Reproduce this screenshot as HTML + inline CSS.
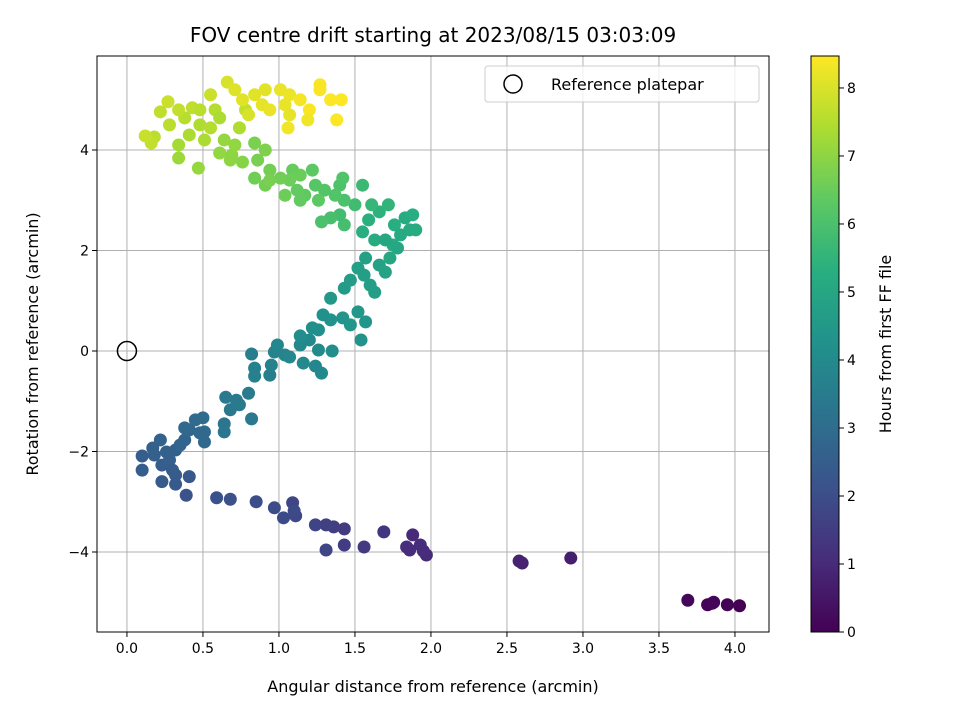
<!DOCTYPE html>
<html><head><meta charset="utf-8"><style>
html,body{margin:0;padding:0;background:#fff;}
svg{display:block;font-family:"DejaVu Sans","Liberation Sans",sans-serif;}
</style></head><body>
<svg id="chart" width="960" height="720" viewBox="0 0 960 720" xmlns="http://www.w3.org/2000/svg">
<defs>
<linearGradient id="vir" x1="0" y1="1" x2="0" y2="0">
<stop offset="0" stop-color="#440154"/><stop offset="0.125" stop-color="#472d7b"/><stop offset="0.25" stop-color="#3b528b"/><stop offset="0.375" stop-color="#2c728e"/><stop offset="0.5" stop-color="#21918c"/><stop offset="0.625" stop-color="#28ae80"/><stop offset="0.75" stop-color="#5ec962"/><stop offset="0.875" stop-color="#addc30"/><stop offset="1" stop-color="#fde725"/>
</linearGradient>
</defs>
<text x="433" y="42" font-size="20" text-anchor="middle">FOV centre drift starting at 2023/08/15 03:03:09</text>
<g id="grid"></g>
<g id="points"></g>
<rect x="97" y="56" width="672" height="576" fill="none" stroke="#000" stroke-width="1"/>
<g id="ticks"></g>
<text x="433" y="692" font-size="16" text-anchor="middle">Angular distance from reference (arcmin)</text>
<text transform="translate(38,344) rotate(-90)" font-size="16" text-anchor="middle">Rotation from reference (arcmin)</text>
<g>
<rect x="485" y="66" width="274" height="36" rx="3" fill="#fff" fill-opacity="0.8" stroke="#ccc"/>
<circle cx="513" cy="84" r="9" fill="none" stroke="#000" stroke-width="1.5"/>
<text x="551" y="90" font-size="16">Reference platepar</text>
</g>
<g>
<rect x="811" y="56" width="28" height="576" fill="url(#vir)" stroke="#000" stroke-width="1"/>
<g id="cbticks"></g>
<text transform="translate(891,344) rotate(-90)" font-size="16" text-anchor="middle">Hours from first FF file</text>
</g>
</svg>
<script>
const xs=[4.03,3.95,3.86,3.82,3.69,3.85,
2.92,2.58,2.6,
1.97,1.95,1.93,1.88,1.86,1.84,1.69,1.56,1.43,1.43,1.36,1.31,1.24,1.31,1.11,1.09,1.1,1.03,0.97,0.85,0.68,0.59,
0.39,0.41,0.32,0.32,0.23,0.1,0.1,0.18,0.23,0.28,0.32,0.22,0.17,0.35,0.38,0.41,0.38,0.45,0.5,0.51,0.51,0.48,0.3,0.26,
0.64,0.65,0.68,0.74,0.8,0.82,0.72,0.64,0.94,0.95,0.97,0.84,0.84,0.82,1.04,1.07,0.99,1.16,1.14,1.26,1.28,1.35,1.24,1.2,
1.14,1.26,1.34,1.42,1.47,1.52,1.57,1.54,1.34,1.43,1.47,1.52,1.56,1.6,1.63,1.57,1.66,1.7,1.29,1.22,
1.73,1.75,1.63,1.55,1.59,1.66,1.76,1.83,1.86,1.8,1.72,1.61,1.55,1.5,1.43,1.4,1.34,1.28,1.88,1.9,1.7,1.78,
1.43,1.4,1.42,1.3,1.24,1.22,1.17,1.12,1.09,1.14,1.07,1.01,0.94,0.86,0.84,0.91,0.84,0.91,0.94,1.04,1.14,1.26,1.37,
0.76,0.69,0.61,0.64,0.71,0.68,0.47,0.34,0.34,0.41,0.48,0.51,0.55,0.38,0.28,0.22,0.18,0.16,0.12,0.27,0.34,0.43,0.48,0.58,0.61,0.74,0.78,0.55,
0.66,0.71,0.76,0.84,0.89,0.94,1.01,1.07,1.04,1.07,1.06,1.14,1.2,1.27,1.34,1.41,1.27,1.19,1.38,0.8,0.91];
const ys=[-5.07,-5.05,-5.0,-5.05,-4.96,-5.02,
-4.12,-4.18,-4.22,
-4.06,-3.98,-3.86,-3.66,-3.96,-3.9,-3.6,-3.9,-3.86,-3.54,-3.5,-3.46,-3.46,-3.96,-3.28,-3.02,-3.18,-3.32,-3.12,-3.0,-2.95,-2.92,
-2.87,-2.5,-2.65,-2.47,-2.6,-2.37,-2.09,-2.07,-2.27,-2.17,-1.97,-1.77,-1.93,-1.87,-1.77,-1.57,-1.53,-1.37,-1.33,-1.61,-1.81,-1.63,-2.37,-2.01,
-1.45,-0.92,-1.17,-1.07,-0.84,-1.35,-0.98,-1.61,-0.48,-0.28,-0.02,-0.34,-0.5,-0.06,-0.08,-0.12,0.12,-0.24,0.12,0.02,-0.44,0.0,-0.3,0.22,
0.3,0.42,0.62,0.66,0.52,0.78,0.58,0.22,1.05,1.25,1.41,1.65,1.51,1.31,1.17,1.85,1.71,1.57,0.72,0.46,
1.85,2.11,2.21,2.37,2.61,2.77,2.51,2.65,2.41,2.31,2.91,2.91,3.3,2.91,2.51,2.71,2.65,2.57,2.71,2.41,2.21,2.05,
3.0,3.3,3.44,3.2,3.3,3.6,3.1,3.2,3.6,3.5,3.4,3.44,3.6,3.8,4.14,4.0,3.44,3.3,3.4,3.1,3.0,3.0,3.1,
3.76,3.9,3.94,4.2,4.1,3.8,3.64,3.84,4.1,4.3,4.5,4.2,4.44,4.64,4.5,4.76,4.26,4.14,4.28,4.96,4.8,4.84,4.8,4.8,4.64,4.44,4.8,5.1,
5.35,5.2,5.0,5.1,4.9,4.8,5.2,5.1,4.9,4.7,4.44,5.0,4.8,5.2,5.0,5.0,5.3,4.6,4.6,4.7,5.2];
const hours=[0.0,0.05,0.1,0.05,0.15,0.08,
0.7,0.8,0.8,
1.0,1.05,1.1,1.0,1.1,1.05,1.3,1.4,1.5,1.45,1.55,1.6,1.7,1.75,1.8,1.75,1.85,1.9,1.95,2.0,2.05,2.1,
2.2,2.3,2.35,2.4,2.45,2.5,2.5,2.55,2.5,2.55,2.6,2.65,2.6,2.7,2.75,2.8,2.85,2.9,2.95,2.9,2.85,2.85,2.45,2.6,
3.3,3.4,3.35,3.45,3.5,3.4,3.45,3.3,3.6,3.7,3.75,3.7,3.65,3.6,3.8,3.85,3.9,3.95,3.95,4.0,4.0,4.05,3.9,4.0,
4.1,4.2,4.3,4.35,4.4,4.45,4.4,4.3,4.5,4.6,4.65,4.7,4.7,4.75,4.7,4.8,4.85,4.9,4.25,4.2,
5.0,5.1,5.2,5.3,5.35,5.4,5.3,5.2,5.1,5.15,5.5,5.6,5.7,5.8,5.9,5.85,5.95,6.0,5.3,5.2,5.0,5.05,
6.0,6.05,6.1,6.15,6.2,6.3,6.35,6.4,6.45,6.5,6.55,6.6,6.65,6.7,6.75,6.8,6.6,6.65,6.7,6.55,6.4,6.3,6.1,
6.9,7.0,7.05,7.1,7.05,7.0,7.1,7.2,7.3,7.4,7.45,7.4,7.5,7.55,7.6,7.65,7.6,7.7,7.75,7.8,7.7,7.65,7.6,7.5,7.4,7.45,7.7,7.8,
8.0,8.05,8.1,8.1,8.15,8.2,8.2,8.25,8.2,8.15,8.3,8.35,8.4,8.4,8.45,8.5,8.4,8.3,8.45,8.0,8.1];
const xTicks=[0.0,0.5,1.0,1.5,2.0,2.5,3.0,3.5,4.0];
const yTicks=[-4,-2,0,2,4];
const cTicks=[0,1,2,3,4,5,6,7,8];

const NS="http://www.w3.org/2000/svg";
const X0=97,X1=769,Y0=56,Y1=632;
const xMin=-0.197,xMax=4.224,yMin=-5.592,yMax=5.871,cMax=8.47;
const sx=v=>X0+(v-xMin)/(xMax-xMin)*(X1-X0);
const sy=v=>Y1-(v-yMin)/(yMax-yMin)*(Y1-Y0);
const sc=v=>632-v/cMax*576;
const vir=[[68,1,84],[71,45,123],[59,82,139],[44,114,142],[33,145,140],[40,174,128],[94,201,98],[173,220,48],[253,231,37]];
function color(h){let t=Math.max(0,Math.min(1,h/cMax))*8;let i=Math.min(7,Math.floor(t)),f=t-i;const a=vir[i],b=vir[i+1];return `rgb(${a.map((c,k)=>Math.round(c+(b[k]-c)*f)).join(',')})`;}
function mk(tag,attrs,parent){const e=document.createElementNS(NS,tag);for(const k in attrs)e.setAttribute(k,attrs[k]);parent.appendChild(e);return e;}
const grid=document.getElementById('grid'),ticks=document.getElementById('ticks'),pts=document.getElementById('points'),cb=document.getElementById('cbticks');
xTicks.forEach(v=>{const x=sx(v);
 const g=mk('line',{x1:x,x2:x,y1:Y0,y2:Y1,stroke:'#b0b0b0','stroke-width':1},grid);
 
 
 mk('line',{x1:x,x2:x,y1:Y1,y2:Y1+5,stroke:'#000'},ticks);
 const t=mk('text',{x:x,y:Y1+21,'font-size':14,'text-anchor':'middle'},ticks);t.textContent=v.toFixed(1);
 
 });
yTicks.forEach(v=>{const y=sy(v);
 const g=mk('line',{x1:X0,x2:X1,y1:y,y2:y,stroke:'#b0b0b0','stroke-width':1},grid);
 
 
 mk('line',{x1:X0-5,x2:X0,y1:y,y2:y,stroke:'#000'},ticks);
 const t=mk('text',{x:X0-8,y:y+5,'font-size':14,'text-anchor':'end'},ticks);t.textContent=(v<0?'\u2212'+(-v):String(v));
 
 });
cTicks.forEach(v=>{const y=sc(v);
 mk('line',{x1:839,x2:844,y1:y,y2:y,stroke:'#000'},cb);
 const t=mk('text',{x:847,y:y+5,'font-size':14},cb);t.textContent=String(v);
 
 });
xs.forEach((v,i)=>{const c=mk('circle',{cx:sx(v),cy:sy(ys[i]),r:6.5,fill:color(hours[i])},pts);
 
 });
const ref=mk('circle',{cx:sx(0),cy:sy(0),r:9.5,fill:'none',stroke:'#000','stroke-width':1.5},pts);


</script>
</body></html>
